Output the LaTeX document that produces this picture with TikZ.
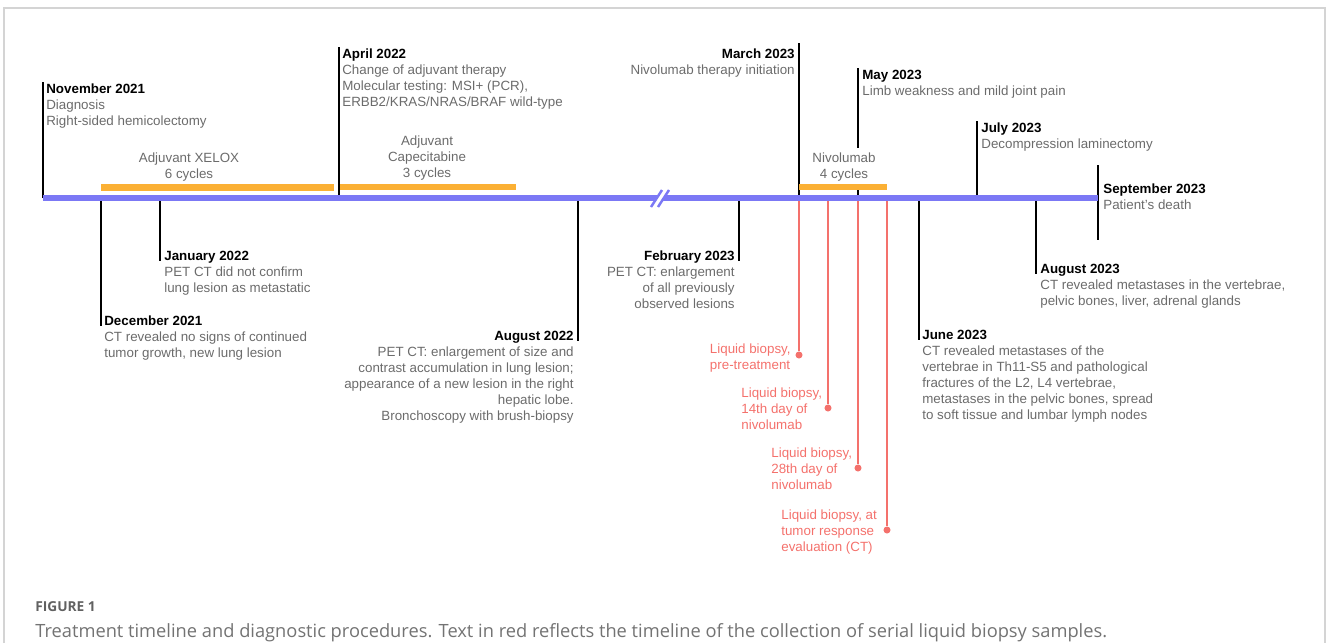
\documentclass[tikz,border=0pt]{standalone}
\usepackage{fontspec}
\setmainfont{Liberation Sans}
\newfontfamily\capfont{Open Sans}
\usetikzlibrary{positioning,calc}
\definecolor{tlblue}{HTML}{7B78F5}
\definecolor{tlorange}{HTML}{FBB034}
\definecolor{tlred}{HTML}{F4716C}
\definecolor{tlgray}{HTML}{6B6B6B}
\definecolor{framegray}{HTML}{D4D4D4}
\tikzset{
  evtext/.style={anchor=north west,align=left,inner sep=0pt,text=tlgray,
                 font=\fontsize{7.6}{9.1}\selectfont},
  evtextr/.style={evtext,anchor=north east,align=right},
  bartext/.style={evtext,anchor=north,align=center},
  redtext/.style={evtext,text=tlred},
  evline/.style={line width=1.1pt,black},
  bioline/.style={line width=1.1pt,tlred},
  biodot/.style={circle,fill=tlred,inner sep=0pt,minimum size=4pt},
  axisline/.style={line width=3.4pt,tlblue},
  therapybar/.style={line width=3.8pt,tlorange},
}
\newcommand{\evhead}[1]{\strut\textcolor{black}{\textbf{#1}}}

\begin{document}
\begin{tikzpicture}[x=0.02cm,y=-0.02cm]
  \useasboundingbox (0,0) rectangle (1328,643);
  \draw[framegray,line width=0.6pt] (4,643) -- (4,8) -- (1325,8) -- (1325,643);

  % points on the time axis
  \coordinate (axL) at (43,198);
  \coordinate (axR) at (1098,198);
  \coordinate (a-nov21) at (43,198);
  \coordinate (a-dec21) at (101,198);
  \coordinate (a-jan22) at (160,198);
  \coordinate (a-apr22) at (339,198);
  \coordinate (a-aug22) at (578,198);
  \coordinate (a-feb23) at (739,198);
  \coordinate (a-mar23) at (799,198);
  \coordinate (a-lb1) at (828,198);
  \coordinate (a-may23) at (858,198);
  \coordinate (a-lb3) at (887,198);
  \coordinate (a-jun23) at (919,198);
  \coordinate (a-jul23) at (977,198);
  \coordinate (a-aug23) at (1036,198);
  \coordinate (s-top) at (1098,165);
  \coordinate (s-bot) at (1098,240);

  % events above the axis
  \node[evtext] (nov21) at (46,82)
    {\evhead{November 2021}\\Diagnosis\\Right-sided hemicolectomy};
  \node[evtext] (apr22) at (342,47)
    {\evhead{April 2022}\\Change of adjuvant therapy\\Molecular testing: MSI+ (PCR),\\ERBB2/KRAS/NRAS/BRAF wild-type};
  \node[evtextr] (mar23) at (795,47)
    {\evhead{March 2023}\\Nivolumab therapy initiation};
  \node[evtext] (may23) at (862,68)
    {\evhead{May 2023}\\Limb weakness and mild joint pain};
  \node[evtext] (jul23) at (981,121)
    {\evhead{July 2023}\\Decompression laminectomy};
  \node[evtext] (sep23) at (1103,182)
    {\evhead{September 2023}\\Patient’s death};

  % events below the axis
  \node[evtext] (jan22) at (164,249)
    {\evhead{January 2022}\\PET CT did not confirm\\lung lesion as metastatic};
  \node[evtext] (dec21) at (104,314)
    {\evhead{December 2021}\\CT revealed no signs of continued\\tumor growth, new lung lesion};
  \node[evtextr] (aug22) at (574,329)
    {\evhead{August 2022}\\PET CT: enlargement of size and\\contrast accumulation in lung lesion;\\appearance of a new lesion in the right\\hepatic lobe.\\Bronchoscopy with brush-biopsy};
  \node[evtextr] (feb23) at (735,249)
    {\evhead{February 2023}\\PET CT: enlargement\\of all previously\\observed lesions};
  \node[evtext] (jun23) at (922,328)
    {\evhead{June 2023}\\CT revealed metastases of the\\vertebrae in Th11-S5 and pathological\\fractures of the L2, L4 vertebrae,\\metastases in the pelvic bones, spread\\to soft tissue and lumbar lymph nodes};
  \node[evtext] (aug23) at (1040,262)
    {\evhead{August 2023}\\CT revealed metastases in the vertebrae,\\pelvic bones, liver, adrenal glands};

  % event ticks
  \draw[evline] (a-nov21) -- (a-nov21 |- nov21.north);
  \draw[evline] (a-apr22) -- (a-apr22 |- apr22.north);
  \draw[evline] (a-mar23) -- ([yshift=2pt]a-mar23 |- mar23.north);
  \draw[evline] (a-may23) -- (a-may23 |- may23.north);
  \draw[evline] (a-jul23) -- (a-jul23 |- jul23.north);
  \draw[evline] (s-top) -- (s-bot);
  \draw[evline] (a-jan22) -- ([yshift=-12*0.02cm]a-jan22 |- jan22.north);
  \draw[evline] (a-dec21) -- ([yshift=-12*0.02cm]a-dec21 |- dec21.north);
  \draw[evline] (a-aug22) -- ([yshift=-12*0.02cm]a-aug22 |- aug22.north);
  \draw[evline] (a-feb23) -- ([yshift=-12*0.02cm]a-feb23 |- feb23.north);
  \draw[evline] (a-jun23) -- ([yshift=-12*0.02cm]a-jun23 |- jun23.north);
  \draw[evline] (a-aug23) -- ([yshift=-12*0.02cm]a-aug23 |- aug23.north);

  % liquid biopsies
  \node[biodot] (lb0) at (799,355) {};
  \node[biodot] (lb1) at (828,408) {};
  \node[biodot] (lb2) at (858,468) {};
  \node[biodot] (lb3) at (887,530) {};
  \draw[bioline] (a-mar23) -- (lb0);
  \draw[bioline] (a-lb1) -- (lb1);
  \draw[bioline] (a-may23) -- (lb2);
  \draw[bioline] (a-lb3) -- (lb3);
  \node[redtext,anchor=north east] (lb0t) at (791,342) {\strut Liquid biopsy,\\pre-treatment};
  \node[redtext] (lb1t) at (741,386) {\strut Liquid biopsy,\\14th day of\\nivolumab};
  \node[redtext] (lb2t) at (771,446) {\strut Liquid biopsy,\\28th day of\\nivolumab};
  \node[redtext] (lb3t) at (781,508) {\strut Liquid biopsy, at\\tumor response\\evaluation (CT)};

  % therapies
  \node[bartext] (xelox) at (189,151) {\strut Adjuvant XELOX\\6 cycles};
  \node[bartext] (cape) at (427,134) {\strut Adjuvant\\Capecitabine\\3 cycles};
  \node[bartext,fill=white,inner ysep=1.5pt] (nivo) at (844,148) {\strut Nivolumab\\4 cycles};
  \draw[therapybar] (101,187.5) -- (334,187.5);
  \draw[therapybar,line width=3.4pt] (340,187) -- (516,187);
  \draw[therapybar,line width=3.4pt] (799,187) -- (887,187);

  % time axis with a break
  \draw[axisline] (axL) -- (axR);
  \fill[white] (650,207) -- (662,189) -- (669,189) -- (657,207) -- cycle;
  \draw[tlblue,line width=1.4pt] (651,207) -- (662,190) (658,207) -- (669,190);

  % caption
  \node[anchor=base west,inner sep=0pt,text=black!62,font=\capfont\bfseries\fontsize{7.8}{9}\selectfont] (figno) at (35,611) {FIGURE 1};
  \node[anchor=base west,inner sep=0pt,text=black!55,font=\capfont\fontsize{10.4}{12}\selectfont] (cap) at (35,637)
    {Treatment timeline and diagnostic procedures. Text in red reflects the timeline of the collection of serial liquid biopsy samples.};
\end{tikzpicture}
\end{document}
